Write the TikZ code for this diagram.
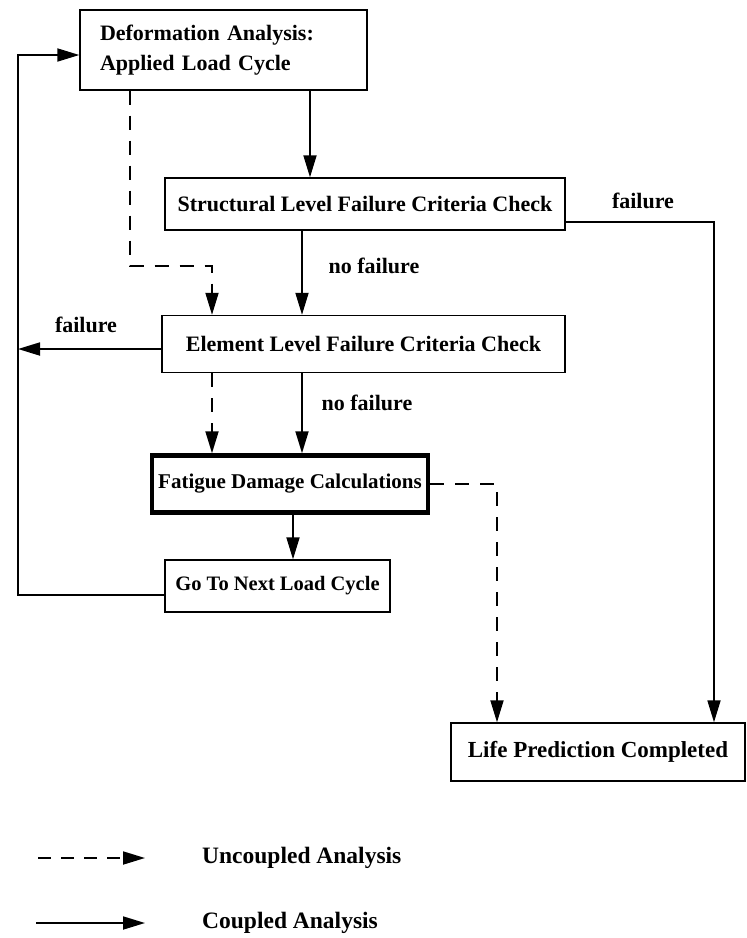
\documentclass[tikz,border=0pt]{standalone}
\usepackage{fontspec}
\setmainfont{Liberation Serif}
\usetikzlibrary{arrows.meta,calc}
\begin{document}
\begin{tikzpicture}[x=1pt,y=-1pt,
  box/.style={draw,line width=1.4pt,inner sep=0pt,font=\bfseries\fontsize{22}{30}\selectfont},
  thickbox/.style={box,line width=4.5pt,font=\bfseries\fontsize{21}{26}\selectfont},
  lbl/.style={font=\bfseries\fontsize{22}{24}\selectfont,inner sep=0pt},
  legtext/.style={font=\bfseries\fontsize{23.5}{26}\selectfont,inner sep=0pt,anchor=west},
  tip/.style={-{Triangle[length=22pt,width=13pt]}},
  solidarrow/.style={line width=1.8pt,tip},
  dashedarrow/.style={line width=1.8pt,tip,dash pattern=on 14pt off 11pt},
]
\useasboundingbox (0,0) rectangle (747,938);

% boxes
\node[box,minimum width=287pt,minimum height=80pt,text width=247pt,align=left] (b1) at (223.5,50)
  {Deformation Analysis:\\Applied Load Cycle};
\node[box,minimum width=400pt,minimum height=52pt] (b2) at (365,204) {Structural Level Failure Criteria Check};
\node[box,minimum width=403pt,minimum height=57pt] (b3) at (363.5,344) {Element Level Failure Criteria Check};
\node[thickbox,minimum width=276pt,minimum height=57pt] (b4) at (290,484) {Fatigue Damage Calculations};
\node[box,minimum width=225pt,minimum height=52pt,font=\bfseries\fontsize{20.5}{24}\selectfont] (b5) at (277.5,586) {Go To Next Load Cycle};
\node[box,minimum width=294pt,minimum height=58pt,font=\bfseries\fontsize{23}{26}\selectfont] (b6) at (598,752) {Life Prediction Completed};

% labels
\node[lbl] (f1) at (643,201) {failure};
\node[lbl] (nf1) at (374,266) {no failure};
\node[lbl] (f2) at (86,325) {failure};
\node[lbl] (nf2) at (367,403) {no failure};

% helper coordinates
\coordinate (colA) at (310,0);
\coordinate (colB) at (302,0);
\coordinate (colC) at (212,0);
\coordinate (colD) at (130,0);
\coordinate (colE) at (714,0);
\coordinate (colF) at (497,0);
\coordinate (colG) at (18,0);
\coordinate (colH) at (293,0);
\coordinate (rowA) at (0,55);
\coordinate (rowD) at (0,266);

% connectors
\draw[solidarrow] (b1.south -| colA) -- (b2.north -| colA);
\draw[solidarrow] ($(b2.east)+(0,18)$) -| (b6.north -| colE);
\draw[solidarrow] (b2.south -| colB) -- (b3.north -| colB);
\draw[dashedarrow] (b1.south -| colD) -- (colD |- rowD) -- (colC |- rowD) -- (b3.north -| colC);
\draw[solidarrow] ($(b3.west)+(0,5)$) -- ($(b3.west -| colG)+(0,5)$);
\draw[dashedarrow] (b3.south -| colC) -- (b4.north -| colC);
\draw[solidarrow] (b3.south -| colB) -- (b4.north -| colB);
\draw[dashedarrow] (b4.east) -| (b6.north -| colF);
\draw[solidarrow] (b4.south -| colH) -- (b5.north -| colH);
\draw[solidarrow] ($(b5.west)+(0,9)$) -| (colG |- rowA) -- (b1.west |- rowA);

% legend
\coordinate (l1a) at (38,858);
\coordinate (l1b) at (145,858);
\coordinate (l2a) at (36,923);
\coordinate (l2b) at (145,923);
\draw[line width=1.8pt,tip,dash pattern=on 13pt off 10pt] (l1a) -- (l1b);
\draw[solidarrow] (l2a) -- (l2b);
\node[legtext] (lg1) at (202,858) {Uncoupled Analysis};
\node[legtext] (lg2) at (202,923) {Coupled Analysis};
\end{tikzpicture}
\end{document}
